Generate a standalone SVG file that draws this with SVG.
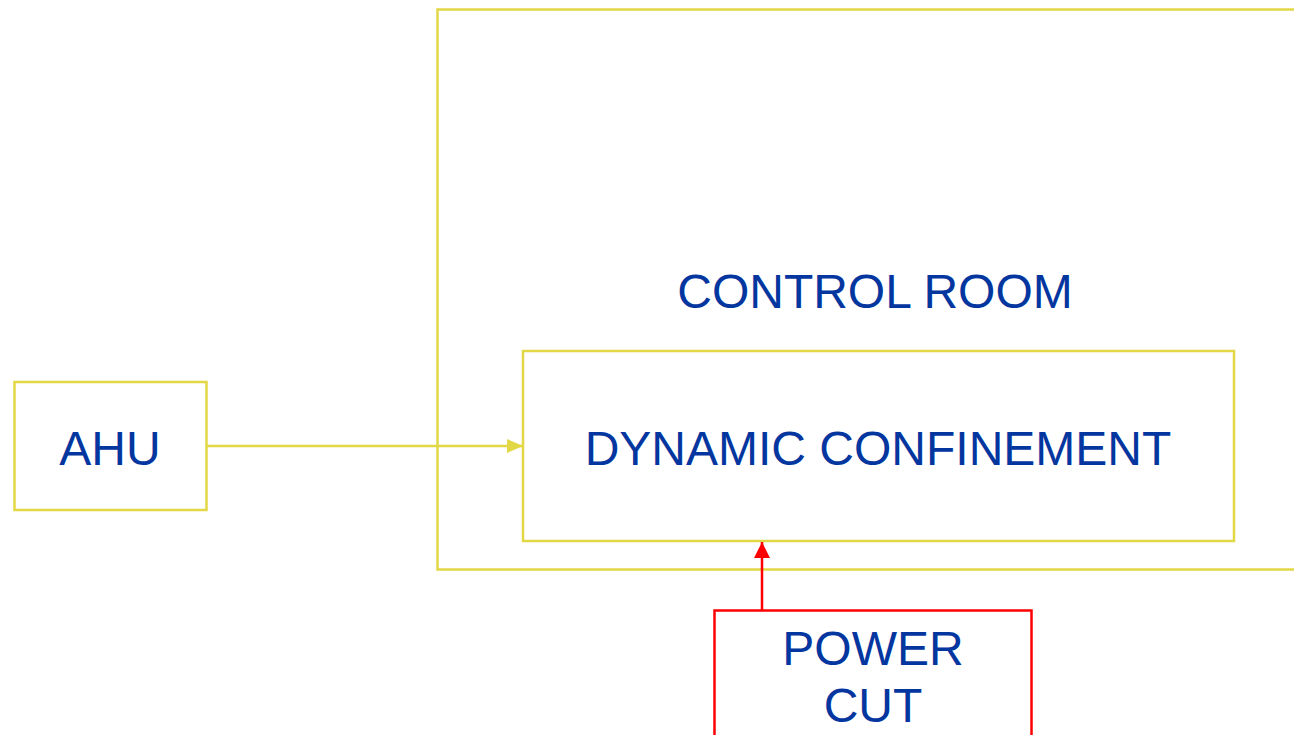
<svg xmlns="http://www.w3.org/2000/svg" width="1294" height="735" viewBox="0 0 1294 735">
<style>
.box{fill:none;stroke:#E2D744;stroke-width:2.5}
.red{fill:none;stroke:#FF0000;stroke-width:2.5}
.t{font-family:"Liberation Sans",Arial,sans-serif;font-size:48px;fill:#0436A0;text-anchor:middle}
</style>
<defs>
<marker id="ay" markerUnits="userSpaceOnUse" markerWidth="16" markerHeight="14" refX="16" refY="7" orient="auto"><path d="M0,0 L16,7 L0,14 Z" fill="#E2D744"/></marker>
<marker id="ar" markerUnits="userSpaceOnUse" markerWidth="16" markerHeight="16" refX="16" refY="8" orient="auto"><path d="M0,0 L16,8 L0,16 Z" fill="#FF0000"/></marker>
</defs>
<rect width="1294" height="735" fill="#fff"/>
<g id="control-room">
<path class="box" d="M1296,9.5 H437.5 V569.5 H1296"/>
<text class="t" x="875" y="308">CONTROL ROOM</text>
</g>
<g id="dynamic-confinement">
<rect class="box" x="523" y="351" width="711" height="190"/>
<text class="t" x="878" y="465">DYNAMIC CONFINEMENT</text>
</g>
<g id="ahu">
<rect class="box" x="14.5" y="382" width="192" height="128"/>
<text class="t" x="110" y="465">AHU</text>
</g>
<g id="power-cut">
<rect class="red" x="714.5" y="610.5" width="317" height="140"/>
<text class="t" x="873" y="665">POWER</text>
<text class="t" x="873" y="722">CUT</text>
</g>
<g id="connectors">
<line x1="207" y1="446" x2="523" y2="446" stroke="#E2D744" stroke-width="2.5" marker-end="url(#ay)"/>
<line x1="762" y1="610" x2="762" y2="542" stroke="#FF0000" stroke-width="2.5" marker-end="url(#ar)"/>
</g>
</svg>
